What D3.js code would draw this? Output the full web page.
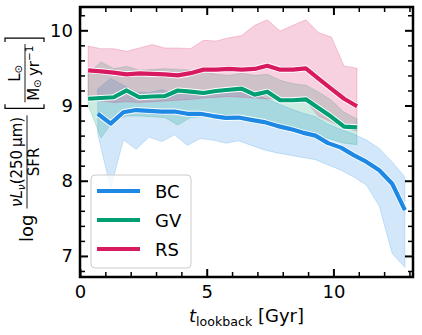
<!DOCTYPE html>
<html>
<head>
<meta charset="utf-8">
<script src="https://cdn.jsdelivr.net/npm/d3@7"></script>
<style>
  body { margin: 0; background: #fff; }
  svg text { font-family: "DejaVu Sans", sans-serif; fill: #000; }
</style>
</head>
<body>
<div id="chart-area"></div>
<script>
// lookback time bins (Gyr)
var tBC = [0.70,1.21,1.71,2.22,2.72,3.23,3.73,4.24,4.74,5.25,5.75,6.26,6.76,7.27,7.77,8.28,8.78,9.29,9.79,10.30,10.80,11.31,11.81,12.32,12.82];
var tGV = [0.32,0.83,1.33,1.84,2.34,2.85,3.35,3.86,4.36,4.87,5.37,5.88,6.38,6.89,7.39,7.90,8.40,8.91,9.41,9.92,10.42,10.93];

// medians and 16-84 percentile bands
var bcMed = [8.89,8.76,8.91,8.94,8.93,8.92,8.92,8.89,8.89,8.86,8.835,8.84,8.81,8.78,8.73,8.69,8.64,8.60,8.50,8.44,8.34,8.25,8.14,7.96,7.61];
var bcHi  = [9.22,9.36,9.27,9.18,9.17,9.21,9.16,9.18,9.15,9.15,9.17,9.17,9.15,9.10,9.03,8.96,8.90,8.85,8.75,8.68,8.62,8.54,8.43,8.25,8.05];
var bcLo  = [8.62,7.90,8.54,8.42,8.58,8.52,8.61,8.47,8.56,8.54,8.50,8.53,8.47,8.41,8.37,8.34,8.31,8.28,8.21,8.14,8.05,7.94,7.66,7.03,6.85];

var gvMed = [9.09,9.10,9.11,9.20,9.11,9.12,9.125,9.20,9.185,9.167,9.193,9.21,9.224,9.145,9.184,9.07,9.07,9.082,8.967,8.85,8.72,8.71];
var gvHi  = [9.43,9.58,9.49,9.52,9.47,9.48,9.49,9.48,9.47,9.45,9.415,9.40,9.43,9.40,9.415,9.335,9.29,9.27,9.18,9.07,8.91,8.82];
var gvLo  = [9.00,8.57,8.80,8.86,8.86,8.85,8.84,8.74,8.84,8.85,8.84,8.82,8.80,8.78,8.76,8.72,8.68,8.65,8.60,8.55,8.50,8.48];

var rsMed = [9.468,9.455,9.437,9.415,9.428,9.42,9.415,9.40,9.43,9.477,9.477,9.486,9.477,9.486,9.53,9.477,9.477,9.495,9.357,9.22,9.09,8.99];
var rsHi  = [9.79,9.756,9.756,9.72,9.765,9.81,9.765,9.765,9.756,9.867,9.858,9.90,9.93,10.066,10.14,9.99,10.066,10.14,9.97,9.91,9.526,9.495];
var rsLo  = [9.10,9.06,9.04,9.05,9.04,9.05,9.06,9.07,9.08,9.10,9.11,9.12,9.11,9.10,9.09,9.08,9.07,9.06,8.86,8.78,8.70,8.66];

var groups = ["BC", "GV", "RS"];
var colors = ["#1E88E5", "#009E73", "#D81B60"];

var xMajor = [0, 5, 10];
var yMajor = [7, 8, 9, 10];

var W = 422, H = 335;
var pLeft = 80, pRight = 413, pTop = 7, pBottom = 277;

var svg = d3.select("#chart-area").append("svg")
	.attr("width", W)
	.attr("height", H);

var x = d3.scaleLinear().domain([0, 13.14]).range([pLeft, pRight]);
var y = d3.scaleLinear().domain([6.72, 10.31]).range([pBottom, pTop]);

var series = [
	{ t: tBC, med: bcMed, hi: bcHi, lo: bcLo },
	{ t: tGV, med: gvMed, hi: gvHi, lo: gvLo },
	{ t: tGV, med: rsMed, hi: rsHi, lo: rsLo }
];

var plot = svg.append("g");

// bands
series.forEach(function(s, k){
	var pts = s.t.map(function(t, i){ return { t: t, hi: s.hi[i], lo: s.lo[i] }; });
	var area = d3.area()
		.x(function(d){ return x(d.t); })
		.y0(function(d){ return y(d.lo); })
		.y1(function(d){ return y(d.hi); });
	plot.append("path")
		.datum(pts)
		.attr("d", area)
		.style("fill", colors[k])
		.style("fill-opacity", 0.2)
		.style("stroke", colors[k])
		.style("stroke-opacity", 0.2)
		.style("stroke-width", 1);
});

// median lines with white edge
series.forEach(function(s, k){
	var pts = s.t.map(function(t, i){ return { t: t, v: s.med[i] }; });
	var line = d3.line()
		.x(function(d){ return x(d.t); })
		.y(function(d){ return y(d.v); });
	plot.append("path")
		.datum(pts)
		.attr("d", line)
		.style("fill", "none")
		.style("stroke", "#fff")
		.style("stroke-width", 6)
		.style("stroke-linejoin", "round");
	plot.append("path")
		.datum(pts)
		.attr("d", line)
		.style("fill", "none")
		.style("stroke", colors[k])
		.style("stroke-width", 4.2)
		.style("stroke-linejoin", "round");
});

// axes, ticks pointing inward on all sides
var xMinor = d3.range(0, 14, 1).filter(function(v){ return xMajor.indexOf(v) < 0; });
var yMinor = d3.range(6.8, 10.31, 0.2).map(function(v){ return Math.round(v * 10) / 10; })
	.filter(function(v){ return yMajor.indexOf(v) < 0; });

function styleAxis(g){
	g.select(".domain").remove();
	g.selectAll("text").style("font-size", "18px").style("font-family", "DejaVu Sans");
}

svg.append("g").attr("transform", "translate(0," + pBottom + ")")
	.call(d3.axisBottom(x).tickValues(xMajor).tickSize(-8).tickPadding(8).tickFormat(d3.format("d")))
	.call(styleAxis).selectAll("line").style("stroke-width", 2);
svg.append("g").attr("transform", "translate(0," + pBottom + ")")
	.call(d3.axisBottom(x).tickValues(xMinor).tickSize(-5).tickFormat(""))
	.call(styleAxis).selectAll("line").style("stroke-width", 1.5);
svg.append("g").attr("transform", "translate(0," + pTop + ")")
	.call(d3.axisTop(x).tickValues(xMajor).tickSize(-8).tickFormat(""))
	.call(styleAxis).selectAll("line").style("stroke-width", 2);
svg.append("g").attr("transform", "translate(0," + pTop + ")")
	.call(d3.axisTop(x).tickValues(xMinor).tickSize(-5).tickFormat(""))
	.call(styleAxis).selectAll("line").style("stroke-width", 1.5);

svg.append("g").attr("transform", "translate(" + pLeft + ",0)")
	.call(d3.axisLeft(y).tickValues(yMajor).tickSize(-8).tickPadding(7).tickFormat(d3.format("d")))
	.call(styleAxis).selectAll("line").style("stroke-width", 2);
svg.append("g").attr("transform", "translate(" + pLeft + ",0)")
	.call(d3.axisLeft(y).tickValues(yMinor).tickSize(-5).tickFormat(""))
	.call(styleAxis).selectAll("line").style("stroke-width", 1.5);
svg.append("g").attr("transform", "translate(" + pRight + ",0)")
	.call(d3.axisRight(y).tickValues(yMajor).tickSize(-8).tickFormat(""))
	.call(styleAxis).selectAll("line").style("stroke-width", 2);
svg.append("g").attr("transform", "translate(" + pRight + ",0)")
	.call(d3.axisRight(y).tickValues(yMinor).tickSize(-5).tickFormat(""))
	.call(styleAxis).selectAll("line").style("stroke-width", 1.5);

// frame
svg.append("rect")
	.attr("x", pLeft).attr("y", pTop)
	.attr("width", pRight - pLeft).attr("height", pBottom - pTop)
	.style("fill", "none").style("stroke", "#000").style("stroke-width", 2.5);

// legend
var leg = svg.append("g").attr("transform", "translate(91,175)");
leg.append("rect")
	.attr("width", 100).attr("height", 93).attr("rx", 4)
	.style("fill", "#fff").style("fill-opacity", 0.8)
	.style("stroke", "#ccc").style("stroke-width", 1);
groups.forEach(function(g, i){
	var yy = 16 + i * 29;
	leg.append("line")
		.attr("x1", 6).attr("x2", 49).attr("y1", yy).attr("y2", yy)
		.style("stroke", colors[i]).style("stroke-width", 4.2);
	leg.append("text")
		.attr("x", 64).attr("y", yy + 6.5)
		.style("font-size", "18px")
		.text(g);
});

// x label
var xl = svg.append("text")
	.attr("x", (pLeft + pRight) / 2).attr("y", 322)
	.attr("text-anchor", "middle")
	.style("font-size", "18px");
xl.append("tspan").style("font-style", "italic").text("t");
xl.append("tspan").attr("dy", 4).style("font-size", "12.6px").text("lookback");
xl.append("tspan").attr("dy", -4).text("\u00a0[Gyr]");

// y label (built along the rotated axis, then centred)
var yl = svg.append("g");
var parts = yl.append("g");
var u = 0;
var fs = 15, sub = 10.5;

var tLog = parts.append("text").attr("x", u).attr("y", 0).style("font-size", "18px").text("log");
u += tLog.node().getComputedTextLength() + 6;

function frac(numBuild, denBuild, barY, numY, denY){
	var g = parts.append("g");
	var num = g.append("text").attr("y", numY).style("font-size", fs + "px");
	numBuild(num);
	var den = g.append("text").attr("y", denY).style("font-size", fs + "px");
	denBuild(den);
	var wn = num.node().getComputedTextLength();
	var wd = den.node().getComputedTextLength();
	var w = Math.max(wn, wd) + 3;
	num.attr("x", u + (w - wn) / 2);
	den.attr("x", u + (w - wd) / 2);
	g.append("line").attr("x1", u).attr("x2", u + w).attr("y1", barY).attr("y2", barY)
		.style("stroke", "#000").style("stroke-width", 0.9);
	u += w;
}

frac(function(t){
	t.append("tspan").style("font-style", "italic").text("\u03bdL");
	t.append("tspan").attr("dy", 3).style("font-style", "italic").style("font-size", sub + "px").text("\u03bd");
	t.append("tspan").attr("dy", -3).text("(250\u2009\u03bcm)");
}, function(t){
	t.append("tspan").text("SFR");
}, -6, -11, 6);

u += 7;
function bracket(open){
	var top0 = -28, bot0 = 11, s = open ? 4 : -4;
	var bx = open ? u : u + 4;
	parts.append("path")
		.attr("d", "M" + (bx + s) + "," + top0 + "H" + bx + "V" + bot0 + "H" + (bx + s))
		.style("fill", "none").style("stroke", "#000").style("stroke-width", 1.2);
	u += 6;
}
bracket(true);

frac(function(t){
	t.append("tspan").text("L");
	t.append("tspan").attr("dy", 2).style("font-size", sub + "px").text("\u2299");
}, function(t){
	t.append("tspan").text("M");
	t.append("tspan").attr("dy", 2).style("font-size", sub + "px").text("\u2299");
	t.append("tspan").attr("dy", -2).text("\u2009yr");
	t.append("tspan").attr("dy", -6).style("font-size", sub + "px").text("\u22121");
}, -8, -13, 6);
u += 2;
bracket(false);

var total = u;
parts.attr("transform", "translate(" + (-total / 2) + ",0)");
yl.attr("transform", "translate(33," + ((pTop + pBottom) / 2 - 3) + ") rotate(-90)");
</script>
</body>
</html>
